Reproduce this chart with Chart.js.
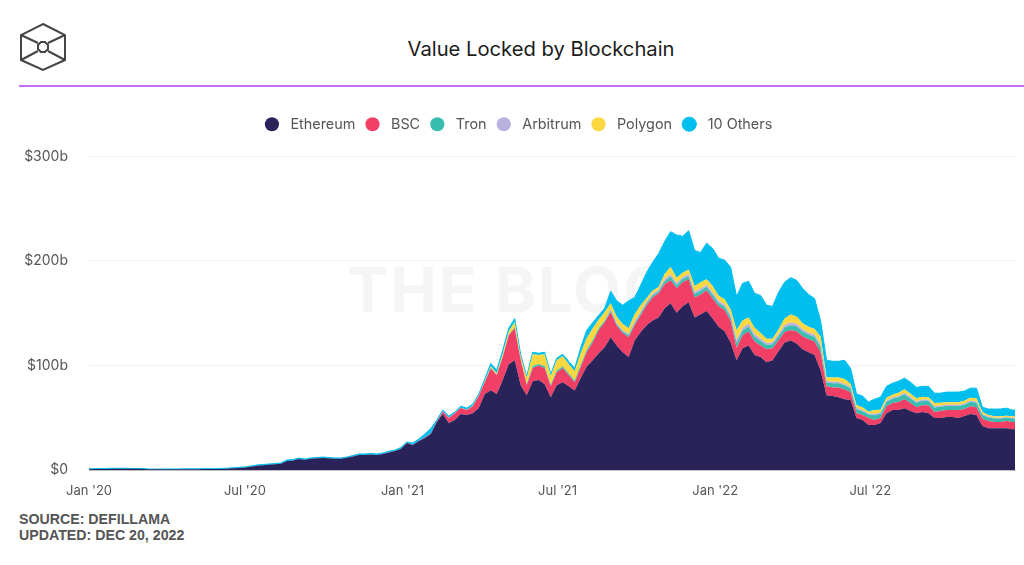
<!DOCTYPE html>
<html lang="en">
<head>
<meta charset="UTF-8">
<title>Value Locked by Blockchain</title>
<script src="https://cdn.jsdelivr.net/npm/chart.js"></script>
<style>
    html, body { margin: 0; padding: 0; background: #fff; }
    body { position: relative; width: 1024px; height: 565px; overflow: hidden; font-family: Inter, sans-serif; }
    #title { position: absolute; left: 341px; width: 400px; top: 36px; text-align: center; font-size: 20.2px; color: #1c1c1c; line-height: 26px; }
    #rule { position: absolute; left: 19px; right: 0; top: 85px; height: 2px; background: #c76df2; }
    #mark { position: absolute; left: 347px; top: 252px; font-size: 62px; font-weight: 700; color: #f5f5f5; letter-spacing: 2px; white-space: nowrap; }
    #logo { position: absolute; left: 18px; top: 21px; }
    #source { position: absolute; left: 19px; top: 511px; font: bold 14.2px/16px "Liberation Sans", sans-serif; color: #555; }
    #wrap { position: absolute; left: 22px; top: 107px; width: 1002px; height: 393px; }
</style>
</head>
<body>
<svg id="logo" width="50" height="52" viewBox="18 21 50 52" fill="none" stroke="#444" stroke-width="2">
    <path d="M43 24 L65 35 L65 60 L43 70 L21 60 L21 35 Z"/>
    <path d="M21 35 L38 43 M65 35 L48 43 M21 60 L38 51 M65 60 L48 51"/>
    <path d="M41 42 L45 42 L48 45 L48 49 L45 52 L41 52 L38 49 L38 45 Z"/>
</svg>
<div id="title">Value Locked by Blockchain</div>
<div id="rule"></div>
<div id="mark">THE BLOCK</div>
<div id="wrap"><canvas id="chart" width="1002" height="393"></canvas></div>
<div id="source">SOURCE: DEFILLAMA<br>UPDATED: DEC 20, 2022</div>

<script>
    // weekly readings in $b, Jan 2020 to Dec 2022
    const days = Array.from({ length: 155 }, (_, i) => i * 7).concat(1081);

    const ethereum = [
        0.8,0.9,0.9,1.0,1.1,1.2,1.2,1.1,1.1,1.0,
        0.6,0.6,0.6,0.7,0.7,0.7,0.8,0.8,0.8,0.9,
        0.9,0.9,1.0,1.2,1.6,2.0,2.3,3.1,4.0,4.5,
        5.0,5.5,6.0,8.6,9.2,10.5,9.7,10.7,11.2,11.5,
        11.2,10.8,10.8,11.6,13,14.3,14.3,14.8,14.4,15.2,
        16.8,18.1,20,25.8,23.9,27.7,30.6,34.4,45.8,53.5,
        44.9,47.8,53.5,52.5,54.4,59.2,72.6,76.4,72.6,86,
        101.2,105,81,71.6,85,86,82,69.7,81,84,
        80,76,88,99,105,111.7,117.5,127,119,112.7,
        108,124,132,138.5,143,146,154.7,159.5,150.4,156.6,
        160.5,146,149,152,145,137,132.8,122,105,116.5,
        119,110,108,103,105,113.7,122,124,121,115.6,
        112.7,110,95.5,71.6,70.7,69.7,67.8,67,49.7,47.8,
        43,43,44.9,54.4,57.3,57.3,59,56.4,54.4,55.4,
        54.4,49.7,49.7,50.6,50.6,49.7,51.6,53.5,52.5,42,
        40,40,40,40,39,39
    ];
    const bsc = [
        0,0,0,0,0,0,0,0,0,0,
        0,0,0,0,0,0,0,0,0,0,
        0,0,0,0,0,0,0,0,0,0,
        0,0,0,0,0,0,0,0,0,0,
        0,0,0,0,0,0,0,0,0,0,
        0.1,0.1,0.2,0.2,0.3,0.3,0.4,0.4,0.5,2.4,
        4.8,6.6,5.7,4.8,6.7,11.5,11.4,21,18.1,22,
        27.8,30.6,24,9.4,12.4,14,15.4,10.3,12.6,13.4,
        10.7,8,10.4,13.7,17,22,23.5,24,19,18.3,
        19,14.5,16,19.1,22,23,22.9,22,23.4,23,
        21.9,19,19,20,19,19.6,20,21,11.6,12.5,
        13.8,13,11,12.6,11.5,10.3,10,9.7,11.8,12.4,
        12.3,13,17.2,8.4,8.3,9.3,9.2,7.5,4.7,4.7,
        6.7,4.8,4.8,6.6,6.7,7.7,8.8,7.6,5.6,6.6,
        7.6,5.7,6.7,6.7,6.7,7.6,6.7,7.5,7.5,6.7,
        6.8,5.8,5.8,6.8,6.8,6.8
    ];
    const tron = [
        0,0,0,0,0,0,0,0,0,0,
        0,0,0,0,0,0,0,0,0,0,
        0,0,0,0,0,0,0,0,0,0,
        0,0,0,0,0,0,0,0,0,0,
        0,0,0,0,0,0,0,0,0,0,
        0,0,0,0,0,0,0,0,0,0.1,
        0.1,0.1,0.2,0.2,0.2,0.2,0.3,0.4,0.4,0.5,
        0.5,0.8,0.5,1.2,1.8,1.5,1.8,1.5,1.6,1.6,
        1.6,1.6,2,2,2.1,1.8,1.8,1.7,1.7,1.7,
        1.8,2,2,2,2,2,3,3.6,3,3,
        3,3.4,3.5,3.3,3.6,3.2,3.3,3.3,5,4.5,
        4.5,4.5,4.4,4,3.8,4,4.4,4.8,4.6,4.4,
        4.4,4.4,5,3.8,4,4,4,3.8,3.8,3.8,
        3.4,4.6,4.2,4.2,4.2,4.5,4.6,4.5,4.4,4.2,
        4,4.4,4.2,4,4,4,4.2,4.2,4.4,3.8,
        3.4,3.4,3.4,3.1,3.4,3.4
    ];
    const arbitrum = [
        0,0,0,0,0,0,0,0,0,0,
        0,0,0,0,0,0,0,0,0,0,
        0,0,0,0,0,0,0,0,0,0,
        0,0,0,0,0,0,0,0,0,0,
        0,0,0,0,0,0,0,0,0,0,
        0,0,0,0,0,0,0,0,0,0,
        0,0,0,0,0,0,0,0,0,0,
        0,0,0,0,0,0,0,0,0,0,
        0,0,0,0,0,0.2,0.3,1,1,1,
        1,1.5,1.6,1.5,1.5,1.5,2,2.2,2,1.8,
        2,2,2.2,2,2.2,2,2.2,2.2,3,2.5,
        2.5,2.5,2.3,2,1.8,2,2.4,2.6,2.5,2.3,
        2.2,2.2,2.5,1.4,1.5,1.5,1.6,1.4,1,1,
        0.9,1.3,1.2,1.2,1.2,1.3,1.4,1.3,1.2,1.2,
        1.1,1.2,1.2,1.1,1.1,1.1,1.2,1.2,1.2,1,
        0.9,0.9,0.9,0.8,0.9,0.9
    ];
    const polygon = [
        0,0,0,0,0,0,0,0,0,0,
        0,0,0,0,0,0,0,0,0,0,
        0,0,0,0,0,0,0,0,0,0,
        0,0,0,0,0,0,0,0,0,0,
        0,0,0,0,0,0,0,0,0,0,
        0,0,0,0,0,0,0,0,0,0.2,
        0.2,0.1,0.2,0.2,0.2,0.3,0.7,1.2,1.4,2.5,
        3,5.2,2.5,6.4,11.6,8.5,11.5,8.5,9.9,9.8,
        8.9,8.9,11.4,11.4,11.3,8,7.9,5.9,5.9,5.9,
        5.8,7,6,3.5,3,2.5,5,6.9,5,4.2,
        4.5,5.6,5.8,5.2,6.2,4.8,5,5,9,7,
        6,6,5.3,4,3.4,4.5,6.2,7.6,6.9,5.8,
        5.4,5.4,7.5,3.2,4,4,4.4,2.8,2.7,2.7,
        1.7,3.6,2.6,2.6,2.6,3.2,3.5,3.2,3,2.6,
        2.5,3,2.6,2.5,2.5,2.5,2.6,2.6,3,1.9,
        1.4,1.4,1.4,1.1,1.4,1.4
    ];
    const others = [
        0.4,0.4,0.5,0.5,0.5,0.5,0.5,0.4,0.4,0.4,
        0.3,0.3,0.3,0.3,0.3,0.3,0.4,0.4,0.4,0.4,
        0.4,0.4,0.5,0.5,0.6,0.6,0.6,0.7,0.8,0.8,
        0.7,0.7,0.7,0.9,0.8,1.0,0.8,0.8,0.8,0.9,
        0.8,0.7,0.7,0.8,0.8,1.0,1.0,1.0,0.9,1.0,
        1.1,0.8,1.3,0.8,1.6,1.6,3.4,5,1.5,1.1,
        1.6,0.8,1.5,1.5,1.5,1.4,2,3,3,3.6,
        3.1,3.4,2,1.2,1.9,1.7,2,1.7,1.9,2,
        2.8,2.9,5.2,7.6,5.6,4.3,3.7,11.4,15.4,18,
        26.4,16,19.1,24.4,27.2,32,31,33.8,41,35,
        37,34,28.5,34.5,36,36,37.5,40.5,32.4,35.6,
        34.7,33,36,32,31,35.5,34.6,35.3,34.7,33.3,
        31,29,15.3,16.6,15.5,15.5,18,14.9,10.7,10.7,
        9.3,10.5,12,11,11,11,10.5,11,10.4,10,
        10.4,9.5,9.1,9.6,9.6,9.6,9.2,9.3,9.7,4.6,
        5.8,6.8,6.8,7.4,5.8,5.8
    ];

    const seriesNames = ['Ethereum', 'BSC', 'Tron', 'Arbitrum', 'Polygon', '10 Others'];
    const seriesValues = [ethereum, bsc, tron, arbitrum, polygon, others];
    const seriesColors = ['#2a2359', '#f23f66', '#38bdae', '#b9b0e0', '#fbd83f', '#00bfef'];

    const yTickValues = [0, 100, 200, 300];
    const xTickDays = [0, 182, 366, 547, 731, 912];
    const xTickLabels = ["Jan '20", "Jul '20", "Jan '21", "Jul '21", "Jan '22", "Jul '22"];

    // pushes the plot down below the legend
    const legendGap = {
        id: 'legendGap',
        beforeInit(chart) {
            const fit = chart.legend.fit;
            chart.legend.fit = function () {
                fit.call(this);
                this.height += 15;
            };
        }
    };

    new Chart(document.getElementById('chart').getContext('2d'), {
        type: 'line',
        plugins: [legendGap],
        data: {
            datasets: seriesNames.map((name, s) => ({
                label: ' ' + name, // leading space widens the dot-to-text gap
                data: seriesValues[s].map((v, i) => ({ x: days[i], y: v })),
                backgroundColor: seriesColors[s],
                borderColor: seriesColors[s],
                borderWidth: s === 5 ? 1 : 0,
                fill: s === 0 ? 'origin' : '-1',
                pointRadius: 0,
                tension: 0
            }))
        },
        options: {
            responsive: false,
            animation: false,
            layout: { padding: { right: 9, left: 0, top: 0, bottom: 0 } },
            plugins: {
                tooltip: { enabled: false },
                legend: {
                    position: 'top',
                    labels: {
                        usePointStyle: true,
                        pointStyle: 'circle',
                        boxHeight: 10,
                        padding: 10,
                        color: '#555',
                        font: { family: 'Inter', size: 14.4 }
                    }
                }
            },
            scales: {
                x: {
                    type: 'linear',
                    min: 0,
                    max: 1081,
                    grid: { display: false },
                    border: { color: '#bdbdbd', width: 1 },
                    afterBuildTicks: axis => { axis.ticks = xTickDays.map(v => ({ value: v })); },
                    afterFit: axis => { axis.height = 30; },
                    ticks: {
                        autoSkip: false,
                        maxRotation: 0,
                        padding: 5,
                        color: '#555',
                        font: { family: 'Inter', size: 13 },
                        callback: v => xTickLabels[xTickDays.indexOf(v)]
                    }
                },
                y: {
                    stacked: true,
                    min: 0,
                    max: 300,
                    grid: { color: '#f2f2f2', drawTicks: false },
                    border: { display: false },
                    afterBuildTicks: axis => { axis.ticks = yTickValues.map(v => ({ value: v })); },
                    afterFit: axis => { axis.width = 67; },
                    ticks: {
                        padding: 21,
                        color: '#555',
                        font: { family: 'Inter', size: 14 },
                        callback: v => v === 0 ? '$0' : '$' + v + 'b'
                    }
                }
            }
        }
    });
</script>
</body>
</html>
